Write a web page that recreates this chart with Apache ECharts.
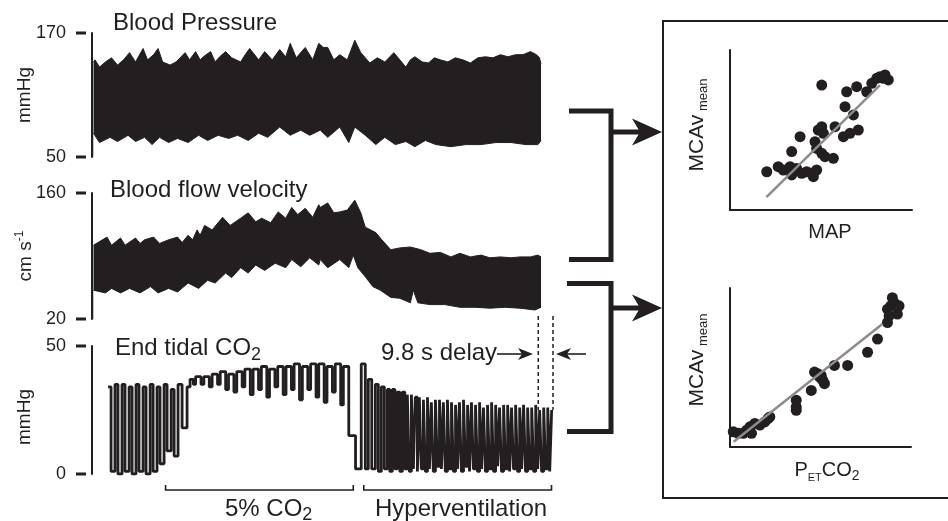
<!DOCTYPE html>
<html>
<head>
<meta charset="utf-8">
<script src="https://cdn.jsdelivr.net/npm/echarts@6/dist/echarts.min.js"></script>
<style>
html, body { margin: 0; padding: 0; background: #fff; }
#chart { width: 948px; height: 521px; }
</style>
</head>
<body>
<div id="chart"></div>
<script>
// time axis in seconds, shared by the three traces
var timeMax = 307;

// blood pressure envelope (mmHg)
var bpUpper = [[1,142],[2,144],[5,137],[9,142],[13,146],[17,139],[21,144],[25,151],[29,142],[34,155],[37,144],[41,149],[44,155],[47,142],[52,139],[56,142],[62,151],[65,144],[69,152],[72,144],[75,148],[79,152],[82,142],[85,147],[89,152],[93,146],[99,142],[102,149],[105,155],[111,144],[115,152],[120,144],[125,154],[129,147],[132,160],[136,146],[142,156],[147,144],[151,160],[154,156],[157,156],[161,144],[165,149],[170,144],[175,163],[179,151],[182,146],[185,141],[190,146],[195,142],[201,151],[205,144],[209,137],[212,144],[215,147],[220,142],[224,141],[228,146],[232,144],[237,142],[242,146],[247,144],[252,141],[257,146],[262,147],[267,146],[272,149],[277,147],[282,149],[287,149],[292,152],[296,149],[298,146],[299,140]];
var bpLower = [[1,73],[2,73],[5,64],[12,69],[17,65],[24,71],[29,65],[35,69],[40,62],[45,69],[51,64],[57,68],[64,64],[71,71],[77,66],[84,71],[91,68],[97,71],[104,66],[111,73],[117,69],[125,79],[132,71],[139,76],[145,71],[152,76],[157,69],[165,79],[171,64],[175,79],[182,71],[189,62],[195,69],[202,62],[209,65],[215,60],[222,66],[229,62],[239,60],[249,62],[259,62],[269,64],[279,64],[289,62],[297,62],[299,66]];

// middle cerebral artery flow velocity envelope (cm/s)
var bfvUpper = [[1,102],[2,100],[5,106],[10,111],[13,102],[19,110],[22,102],[29,110],[32,104],[35,108],[41,111],[45,104],[51,108],[57,111],[60,105],[64,113],[67,108],[70,119],[72,113],[75,124],[80,119],[87,133],[92,124],[99,132],[104,138],[109,128],[113,132],[119,127],[124,139],[129,132],[133,144],[137,136],[142,143],[147,133],[151,147],[152,144],[157,149],[161,138],[165,139],[170,141],[175,152],[179,138],[182,122],[189,116],[193,108],[199,97],[205,99],[212,100],[219,97],[225,93],[232,94],[239,89],[245,93],[252,89],[259,91],[265,88],[272,89],[279,88],[285,89],[292,89],[297,91],[299,89]];
var bfvLower = [[1,52],[2,50],[9,49],[13,54],[19,49],[25,54],[32,49],[39,56],[44,49],[51,54],[57,50],[64,60],[71,54],[77,63],[82,60],[89,71],[93,66],[99,77],[104,71],[109,80],[115,74],[122,82],[129,77],[133,86],[139,78],[145,88],[151,80],[152,86],[157,77],[165,86],[171,77],[174,91],[177,77],[182,67],[187,56],[192,52],[199,44],[205,43],[212,38],[214,52],[217,38],[225,36],[235,36],[245,33],[255,33],[265,32],[275,33],[285,32],[295,30],[299,33]];

// end tidal CO2 breaths (mmHg), value held until the next point
var co2Baseline = [[10.7,34],[12.7,1],[15.3,35],[17.3,0],[20.0,35],[22.0,1],[24.7,34],[26.7,0],[29.3,35],[31.3,1],[34.0,34],[36.0,0],[38.7,35],[40.7,1],[43.3,34],[45.3,4],[48.0,35],[50.0,9],[52.7,33],[54.7,7],[57.3,35],[60.0,18]];
var co2Inhaled = [[63.3,34],[65.3,37],[67.5,35],[69.0,38],[72.6,35],[74.5,38],[78.1,34],[80.0,39],[83.6,35],[85.4,40],[89.0,33],[90.9,39],[94.5,32],[96.4,40],[100.0,34],[101.8,41],[105.4,31],[107.3,41],[110.9,33],[112.8,42],[116.4,30],[118.2,41],[121.8,34],[123.7,42],[127.3,31],[129.2,42],[132.8,33],[134.6,43],[138.2,29],[140.1,42],[143.7,33],[145.6,43],[149.2,30],[151.0,43],[154.6,28],[156.5,42],[160.1,32],[162.0,43],[165.6,27],[167.4,42],[171.0,15],[175.5,2]];
var co2Hyper = [[179.3,43],[182.0,2],[184.0,37],[186.3,2],[188.7,35],[190.7,1],[192.7,34],[194.7,2],[196.7,33],[198.3,1],[200.0,33],[201.7,2],[203.3,32],[205.0,1],[206.7,32],[208.3,2],[210.0,31],[211.3,1],[212.7,31],[214.0,2],[215.3,30],[216.7,1],[218.0,30],[219.3,2],[220.7,29],[222.0,1],[223.4,30],[224.7,2],[226.0,28],[227.3,1],[228.7,29],[230.0,3],[231.4,29],[232.7,2],[234.0,28],[235.3,1],[236.7,29],[238.0,2],[239.4,28],[240.7,1],[242.1,27],[243.4,2],[244.7,28],[246.0,1],[247.4,29],[248.7,3],[250.1,27],[251.4,1],[252.7,28],[254.0,2],[255.4,27],[256.7,1],[258.1,28],[259.4,2],[260.7,26],[262.0,1],[263.4,27],[264.7,2],[266.1,28],[267.4,1],[268.8,27],[270.1,3],[271.4,26],[272.7,1],[274.1,27],[275.4,2],[276.8,27],[278.1,1],[279.4,26],[280.7,2],[282.1,27],[283.4,1],[284.8,26],[286.1,2],[287.4,27],[288.7,1],[290.1,26],[291.4,2],[292.8,26],[294.1,1],[295.5,27],[296.8,2],[298.1,25],[299.4,1],[300.8,26],[302.1,2],[303.5,26],[304.8,1],[306.1,25]];

// protocol periods (s) and the CO2 delay
var periodStart = [49, 181];
var periodEnd = [174, 306];
var delayStart = 297.2;
var delaySec = 9.8;

// scatter panels (arbitrary units 0-100)
var mapPoints = [[20.2,23.9],[26.5,27.1],[29.3,25],[33,27.1],[33.9,21.9],[36.6,26],[39.4,22.9],[42.1,23.9],[44.9,22.9],[45.8,20.8],[47.6,25],[33.9,36.5],[38.5,45.8],[46.7,42.7],[48.5,50],[50.4,52.1],[51.3,47.9],[47.6,38.5],[50.4,35.4],[52.2,33.3],[56.8,32.3],[57.7,52.1],[50.4,78.1],[63.2,64.6],[64.1,73.9],[67.8,59.4],[62.3,45.8],[65.9,47.9],[70.5,50],[69.6,77.1],[75.1,73.9],[77.9,79.2],[80.6,82.3],[82.4,83.3],[85.2,84.4],[87,81.3],[84.2,82.3]];
var mapFit = [[20,8],[82.4,78]];
var co2Points = [[1.8,9.6],[4.6,8.6],[7.3,8.6],[9.2,10.6],[11.9,8.6],[11,12.7],[13.7,14.8],[16.5,13.8],[19.2,15.8],[21,17.9],[22,18.9],[36.6,29.4],[36.6,25.2],[36.6,23.1],[44.9,35.6],[46.7,47.1],[48.5,46.1],[50.4,45],[51.3,41.9],[52.2,39.8],[49.5,43.9],[57.7,51.3],[65,51.3],[76,59.6],[81.5,67.9],[87,78.3],[87.9,82.5],[88.8,88.8],[90.7,90.8],[93.4,88.8],[92.5,83.6],[89.7,93.9],[87,86.7]];
var co2Fit = [[2,3.3],[84.2,77.3]];

var ink = '#231f20';
var font = '"Liberation Sans", Arial, Helvetica, sans-serif';

var chart = echarts.init(document.getElementById('chart'));

function traceAxis(i, min, max) {
    return {
        gridIndex: i, type: 'value', min: min, max: max,
        axisLine: { show: true, onZero: false, lineStyle: { color: ink, width: 2 } },
        axisTick: { show: false },
        splitLine: { show: false },
        axisLabel: {
            customValues: [min, max], margin: 6,
            formatter: function (v) { return '{v|' + v + '}{d| }'; },
            rich: {
                v: { fontSize: 18, fontFamily: font, color: ink, padding: [0, 10, 0, 0] },
                d: { width: 10, height: 3, backgroundColor: ink }
            }
        }
    };
}
function plainAxis(i) {
    return {
        gridIndex: i, type: 'value', min: 0, max: 100,
        axisLine: { show: true, onZero: false, lineStyle: { color: ink, width: 2 } },
        axisTick: { show: false }, axisLabel: { show: false }, splitLine: { show: false }
    };
}
function timeAxis(i) {
    return { gridIndex: i, type: 'value', min: 0, max: timeMax, show: false };
}
function band(data, i, fill) {
    return {
        type: 'line', xAxisIndex: i, yAxisIndex: i, data: data, symbol: 'none',
        lineStyle: { color: ink, width: 1 },
        areaStyle: { color: fill, opacity: 1, origin: 'start' }
    };
}

chart.setOption({
    animation: false,
    grid: [
        { left: 92, top: 33, width: 461, height: 124 },
        { left: 92, top: 193, width: 461, height: 126 },
        { left: 92, top: 346, width: 461, height: 128 },
        { left: 730, top: 50, width: 182, height: 160 },
        { left: 730, top: 288, width: 181, height: 159 }
    ],
    xAxis: [timeAxis(0), timeAxis(1), timeAxis(2), plainAxis(3), plainAxis(4)],
    yAxis: [traceAxis(0, 50, 170), traceAxis(1, 20, 160), traceAxis(2, 0, 50), plainAxis(3), plainAxis(4)],
    series: [
        band(bpUpper, 0, ink),
        band(bpLower, 0, '#fff'),
        band(bfvUpper, 1, ink),
        band(bfvLower, 1, '#fff'),
        {
            type: 'line', xAxisIndex: 2, yAxisIndex: 2, step: 'end', symbol: 'none',
            data: co2Baseline.concat(co2Inhaled, co2Hyper),
            lineStyle: { color: ink, width: 2.8 }
        },
        { type: 'scatter', xAxisIndex: 3, yAxisIndex: 3, data: mapPoints, symbolSize: 11, itemStyle: { color: ink, opacity: 1 } },
        { type: 'line', xAxisIndex: 3, yAxisIndex: 3, data: mapFit, symbol: 'none', z: 3, lineStyle: { color: '#8c8c8c', width: 2.5 } },
        { type: 'scatter', xAxisIndex: 4, yAxisIndex: 4, data: co2Points, symbolSize: 11, itemStyle: { color: ink, opacity: 1 } },
        { type: 'line', xAxisIndex: 4, yAxisIndex: 4, data: co2Fit, symbol: 'none', z: 3, lineStyle: { color: '#8c8c8c', width: 2.5 } }
    ]
});

// annotations
function tx(x, y, text, size, opts) {
    opts = opts || {};
    return {
        type: 'text', x: x, y: y, rotation: opts.rot || 0, z: 50,
        style: {
            text: text, fill: ink, font: size + 'px ' + font,
            align: opts.align || 'left', textAlign: opts.align || 'left',
            verticalAlign: 'middle', textVerticalAlign: 'middle',
            rich: opts.rich
        }
    };
}
function line(points, w, dash) {
    return { type: 'polyline', z: 40, shape: { points: points }, style: { stroke: ink, lineWidth: w, fill: null, lineDash: dash || null } };
}
function head(tipX, y, dir, len, half, notch) {
    return { type: 'polygon', z: 41, shape: { points: [[tipX, y], [tipX - dir * len, y - half], [tipX - dir * (len - notch), y], [tipX - dir * len, y + half]] }, style: { fill: ink } };
}
var tPx = function (t) { return chart.convertToPixel({ xAxisIndex: 2 }, t); };
var sub = {
    a: { fontSize: 24, fontFamily: font, color: ink, lineHeight: 30 },
    b: { fontSize: 18, fontFamily: font, color: ink, lineHeight: 20, verticalAlign: 'bottom' }
};
var mcav = {
    a: { fontSize: 21, fontFamily: font, color: ink, lineHeight: 26 },
    b: { fontSize: 13, fontFamily: font, color: ink, lineHeight: 16, verticalAlign: 'bottom' }
};

var g = [
    tx(113, 23.6, 'Blood Pressure', 24),
    tx(110, 190.6, 'Blood flow velocity', 24),
    tx(115, 348.6, '{a|End tidal CO}{b|2}', 24, { rich: sub }),
    tx(25, 95, 'mmHg', 19, { rot: Math.PI / 2, align: 'center' }),
    tx(26, 256, '{a|cm s}{b|-1}', 19, { rot: Math.PI / 2, align: 'center', rich: {
        a: { fontSize: 19, fontFamily: font, color: ink, lineHeight: 24 },
        b: { fontSize: 12, fontFamily: font, color: ink, lineHeight: 14, verticalAlign: 'top' } } }),
    tx(25, 417, 'mmHg', 19, { rot: Math.PI / 2, align: 'center' }),
    tx(381, 353.3, '9.8 s delay', 24),
    line([[497, 354], [525, 354]], 1.6),
    head(533, 354, 1, 15, 6, 4),
    line([[586, 354], [564, 354]], 1.6),
    head(556, 354, -1, 15, 6, 4),
    // bracket from traces to scatter panels
    line([[569, 111], [611, 111], [611, 259.5], [569, 259.5]], 5),
    line([[611, 132], [645, 132]], 5),
    head(662, 132, 1, 30, 13.5, 8),
    line([[567, 283.5], [611, 283.5], [611, 431.5], [567, 431.5]], 5),
    line([[611, 308], [645, 308]], 5),
    head(662, 308, 1, 30, 13.5, 8),
    { type: 'rect', z: 30, shape: { x: 663, y: 21, width: 320, height: 477 }, style: { fill: null, stroke: ink, lineWidth: 2 } },
    tx(830, 232, 'MAP', 20, { align: 'center' }),
    tx(827, 470, '{a|P}{b|ET}{a|CO}{c|2}', 20, { align: 'center', rich: {
        a: { fontSize: 20, fontFamily: font, color: ink, lineHeight: 26 },
        b: { fontSize: 11, fontFamily: font, color: ink, lineHeight: 17, verticalAlign: 'bottom' },
        c: { fontSize: 14, fontFamily: font, color: ink, lineHeight: 19, verticalAlign: 'bottom' } } }),
    tx(697, 125, '{a|MCAv}{b| mean}', 21, { rot: Math.PI / 2, align: 'center', rich: mcav }),
    tx(697, 360, '{a|MCAv}{b| mean}', 21, { rot: Math.PI / 2, align: 'center', rich: mcav })
];

// delay markers and protocol brackets placed on the time scale
var d0 = tPx(delayStart), d1 = tPx(delayStart + delaySec);
g.push(line([[d0, 316], [d0, 410]], 1.5, [4, 3]));
g.push(line([[d1, 316], [d1, 410]], 1.5, [4, 3]));
var labels = ['{a|5% CO}{b|2}', 'Hyperventilation'];
var labelX = [225, 375];
for (var i = 0; i < periodStart.length; i++) {
    var a = tPx(periodStart[i]), b = tPx(periodEnd[i]);
    g.push(line([[a, 485], [a, 490], [b, 490], [b, 485]], 1.6));
    g.push(tx(labelX[i], 509, labels[i], 24, { rich: sub }));
}
chart.setOption({ graphic: { elements: g } });
</script>
</body>
</html>
